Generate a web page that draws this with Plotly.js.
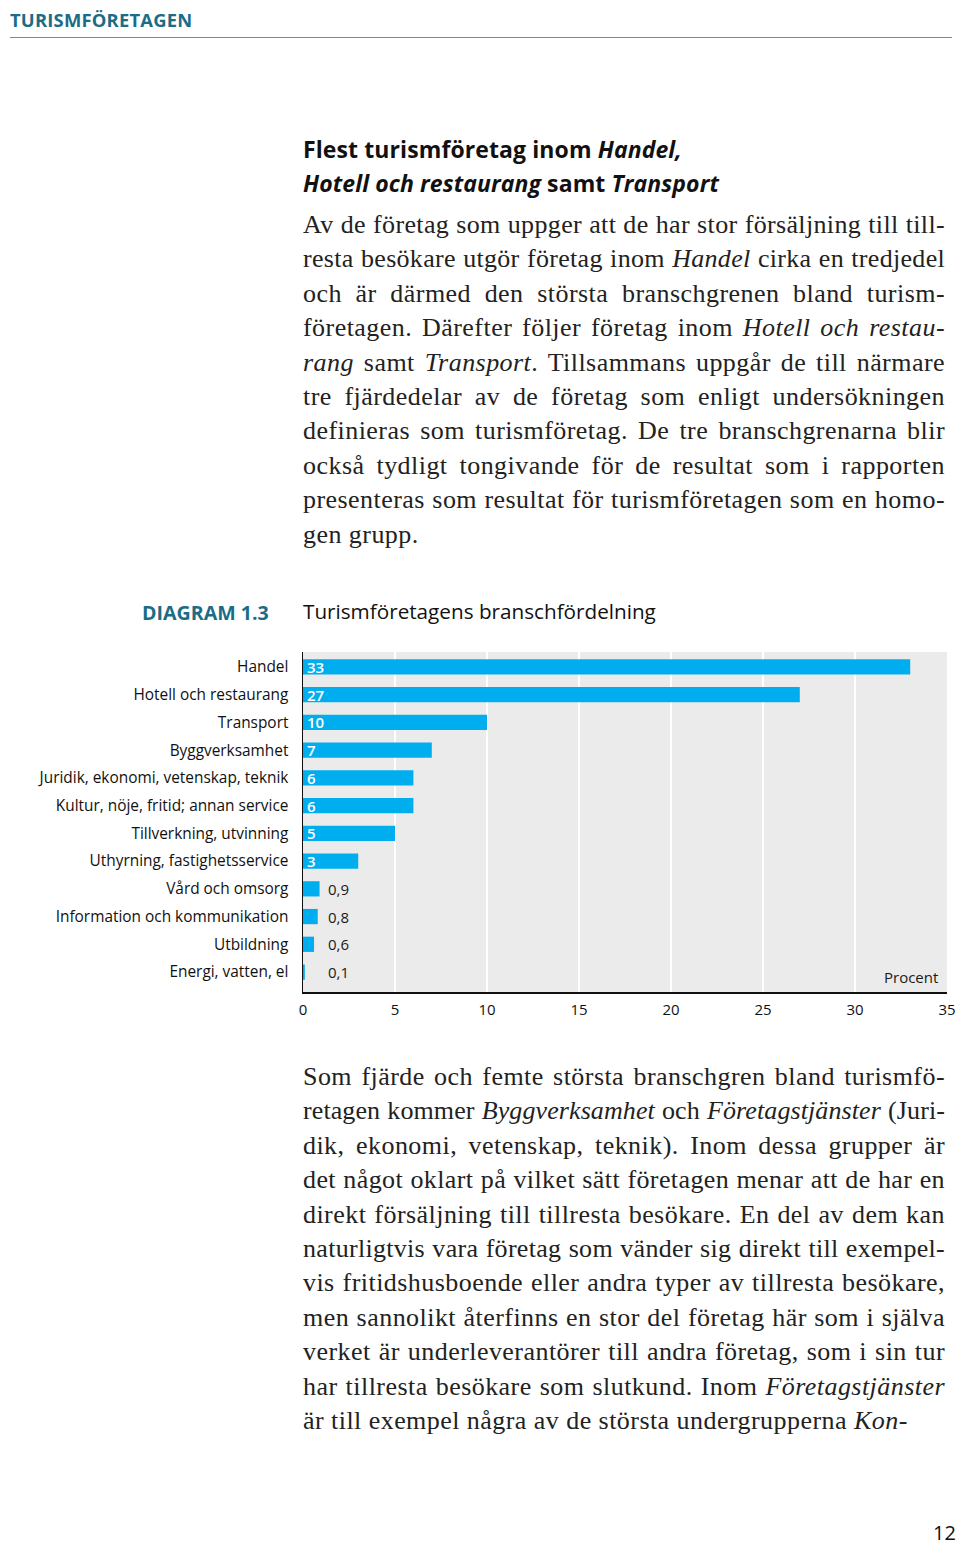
<!DOCTYPE html>
<html><head><meta charset="utf-8">
<script src="https://cdn.plot.ly/plotly-3.0.1.min.js"></script>
<style>
html,body{margin:0;padding:0;background:#fff;}
body{width:960px;height:1543px;position:relative;overflow:hidden;font-family:"Open Sans",sans-serif;color:#1a1a1a;}
.hdr{position:absolute;left:10px;top:7px;font-family:"Open Sans";font-weight:700;font-size:18.4px;color:#1b6d87;letter-spacing:0.2px;}
.rule{position:absolute;left:10px;top:37px;width:942px;height:0;border-top:1.5px solid #5b99a8;}
.h2{position:absolute;left:303px;top:132px;font-family:"Open Sans";font-weight:700;font-size:23px;line-height:34px;letter-spacing:0.1px;color:#111;}
.para{position:absolute;left:303px;width:642px;font-family:"Liberation Serif",serif;font-size:26px;line-height:34.4px;color:#222;}
.para div{white-space:nowrap;text-align:justify;text-align-last:justify;letter-spacing:0.45px;}
.para div.last{text-align-last:left;}
.dlab{position:absolute;left:142px;top:599px;font-family:"Open Sans";font-weight:700;font-size:19.6px;color:#1b6d87;}
.dtit{position:absolute;left:303px;top:597px;font-family:"Open Sans";font-size:20.7px;color:#111;}
.pnum{position:absolute;left:933px;top:1519px;font-family:"Open Sans";font-size:20px;color:#111;}
#chart{position:absolute;left:0;top:640px;width:960px;height:390px;}
</style></head>
<body>
<div class="hdr">TURISMFÖRETAGEN</div>
<div class="rule"></div>
<div class="h2">Flest turismföretag inom <i>Handel,</i><br><i>Hotell och restaurang</i> samt <i>Transport</i></div>
<div class="para" style="top:208px">
<div>Av de företag som uppger att de har stor försäljning till till-</div>
<div>resta besökare utgör företag inom <i>Handel</i> cirka en tredjedel</div>
<div>och är därmed den största branschgrenen bland turism-</div>
<div>företagen. Därefter följer företag inom <i>Hotell och restau-</i></div>
<div><i>rang</i> samt <i>Transport</i>. Tillsammans uppgår de till närmare</div>
<div>tre fjärdedelar av de företag som enligt undersökningen</div>
<div>definieras som turismföretag. De tre branschgrenarna blir</div>
<div>också tydligt tongivande för de resultat som i rapporten</div>
<div>presenteras som resultat för turismföretagen som en homo-</div>
<div class="last">gen grupp.</div>
</div>
<div class="dlab">DIAGRAM 1.3</div>
<div class="dtit">Turismföretagens branschfördelning</div>
<div id="chart"></div>
<div class="para" style="top:1060px">
<div>Som fjärde och femte största branschgren bland turismfö-</div>
<div>retagen kommer <i>Byggverksamhet</i> och <i>Företagstjänster</i> (Juri-</div>
<div>dik, ekonomi, vetenskap, teknik). Inom dessa grupper är</div>
<div>det något oklart på vilket sätt företagen menar att de har en</div>
<div>direkt försäljning till tillresta besökare. En del av dem kan</div>
<div>naturligtvis vara företag som vänder sig direkt till exempel-</div>
<div>vis fritidshusboende eller andra typer av tillresta besökare,</div>
<div>men sannolikt återfinns en stor del företag här som i själva</div>
<div>verket är underleverantörer till andra företag, som i sin tur</div>
<div>har tillresta besökare som slutkund. Inom <i>Företagstjänster</i></div>
<div class="last">är till exempel några av de största undergrupperna <i>Kon-</i></div>
</div>
<div class="pnum">12</div>
<script>
// shrink letter-spacing on any justified line that would overflow the column
document.querySelectorAll('.para div').forEach(d => {
  let ls = 0.45;
  d.style.textAlignLast = 'left';
  const probe = document.createElement('span');
  probe.innerHTML = d.innerHTML; probe.style.whiteSpace = 'nowrap';
  d.innerHTML = ''; d.appendChild(probe);
  while (probe.getBoundingClientRect().width > 640 && ls > -1.5) {
    ls -= 0.05; d.style.letterSpacing = ls + 'px';
  }
  d.innerHTML = probe.innerHTML;
  d.style.textAlignLast = d.classList.contains('last') ? 'left' : 'justify';
});

const categories = ["Handel","Hotell och restaurang","Transport","Byggverksamhet","Juridik, ekonomi, vetenskap, teknik","Kultur, nöje, fritid; annan service","Tillverkning, utvinning","Uthyrning, fastighetsservice","Vård och omsorg","Information och kommunikation","Utbildning","Energi, vatten, el"];
const values = [33,27,10,7,6,6,5,3,0.9,0.8,0.6,0.1];
const xTicks = [0,5,10,15,20,25,30,35];
const unitLabel = "Procent";

const fmt = v => String(v).replace('.', ',');
const ann = values.map((v,i) => {
  const inside = v >= 3;
  return {x:0, y:categories[i], xref:'x', yref:'y', text: fmt(v), showarrow:false,
    xanchor:'left', xshift: inside ? 2 : 23, yshift:0,
    font:{family:'Open Sans', size:15, color: inside ? '#ffffff' : '#1a1a1a', weight: inside ? 600 : 400}};
});
ann.push({xref:'paper', yref:'paper', x:1, y:0, xanchor:'right', yanchor:'bottom', xshift:-7, yshift:3,
  text:unitLabel, showarrow:false, font:{family:'Open Sans', size:15, color:'#1a1a1a'}});

Plotly.newPlot('chart', [{
  type:'bar', orientation:'h', x:values, y:categories,
  marker:{color:'#00aeef', line:{width:0}}, width:0.55, hoverinfo:'none'
}], {
  width:960, height:390,
  margin:{l:303, r:13, t:12, b:38},
  paper_bgcolor:'rgba(0,0,0,0)', plot_bgcolor:'#ebebeb',
  showlegend:false,
  font:{family:'Open Sans', size:15, color:'#111'},
  xaxis:{range:[0,35], tickvals:xTicks, ticktext:xTicks.map(String), showgrid:true, gridcolor:'#ffffff', gridwidth:2,
    zeroline:false, showline:true, linecolor:'#111', linewidth:1.5, ticks:'', ticklabelstandoff:3, fixedrange:true,
    tickfont:{family:'Open Sans', size:15, color:'#111'}},
  yaxis:{type:'category', categoryorder:'array', categoryarray:categories, range:[11.72,-0.54],
    showgrid:false, zeroline:false, showline:true, linecolor:'#111', linewidth:1.5, ticks:'', ticklabelstandoff:10, fixedrange:true,
    tickfont:{family:'Open Sans', size:15.4, color:'#111'}},
  annotations: ann
}, {staticPlot:true, displayModeBar:false});
</script>
</body></html>
